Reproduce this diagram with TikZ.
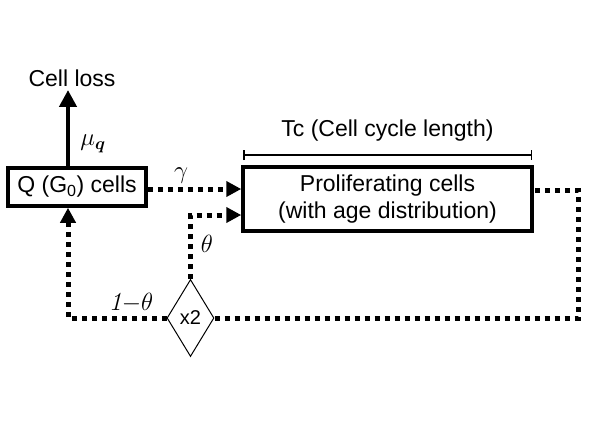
\documentclass[tikz,border=0pt]{standalone}
\usepackage{fontspec}
\setmainfont{Liberation Sans}
\usepackage{bm}
\usetikzlibrary{arrows.meta,shapes.geometric}
\begin{document}
\begin{tikzpicture}[x=1pt,y=-1pt,
  box/.style={draw,line width=3.5pt,inner sep=0pt,font=\fontsize{23}{27}\selectfont},
  dotline/.style={line width=5pt,dash pattern=on 5pt off 5pt},
  tip/.style={-{Triangle[length=15pt,width=15pt]}},
  txt/.style={font=\fontsize{23}{27}\selectfont},
  lbl/.style={font=\fontsize{26}{30}\selectfont}]
\useasboundingbox (0,0) rectangle (600,424);
\node[box,minimum width=138pt,minimum height=38pt] (q) at (77,187) {Q (G\textsubscript{0}) cells};
\node[box,minimum width=289pt,minimum height=64pt,align=center] (p) at (387.5,199) {Proliferating cells\\(with age distribution)};
\node[txt] (loss) at (72,78) {Cell loss};
\node[txt] (tc) at (387.5,131) {Tc (Cell cycle length)};
\node[draw,diamond,line width=1pt,minimum width=47pt,minimum height=77pt,inner sep=0pt,font=\fontsize{20}{24}\selectfont] (d) at (190.5,318) {x2};
\coordinate (b1) at (243,155);
\coordinate (b2) at (532,155);
\draw[line width=1.5pt,{Bar[width=10pt]}-{Bar[width=10pt]}] (b1) -- (b2);
\draw[line width=4.5pt,-{Triangle[length=17pt,width=17pt]}] (q.north -| 68,0) -- (loss.south -| 68,0);
\node[lbl] (mu) at (93,144) {$\mu_{\bm q}$};
\node[lbl] (g) at (181,176) {$\gamma$};
\draw[dotline,tip] (q.east |- 0,189) -- (p.west |- 0,189);
\draw[dotline,tip] (d.north) -- (d.north |- 0,215) -- (p.west |- 0,215);
\node[lbl] (th) at (207,244) {$\theta$};
\coordinate (rc) at (578,318);
\draw[dotline] (d.east) -- (rc) -- (rc |- 0,190) -- (p.east |- 0,190);
\coordinate (lc) at (68,318);
\draw[dotline,tip] (d.west) -- (lc) -- (lc |- q.south);
\node[lbl,fill=white,inner sep=1pt] (omt) at (131,303) {{\fontfamily{lmr}\itshape 1}${-}\theta$};
\end{tikzpicture}
\end{document}
